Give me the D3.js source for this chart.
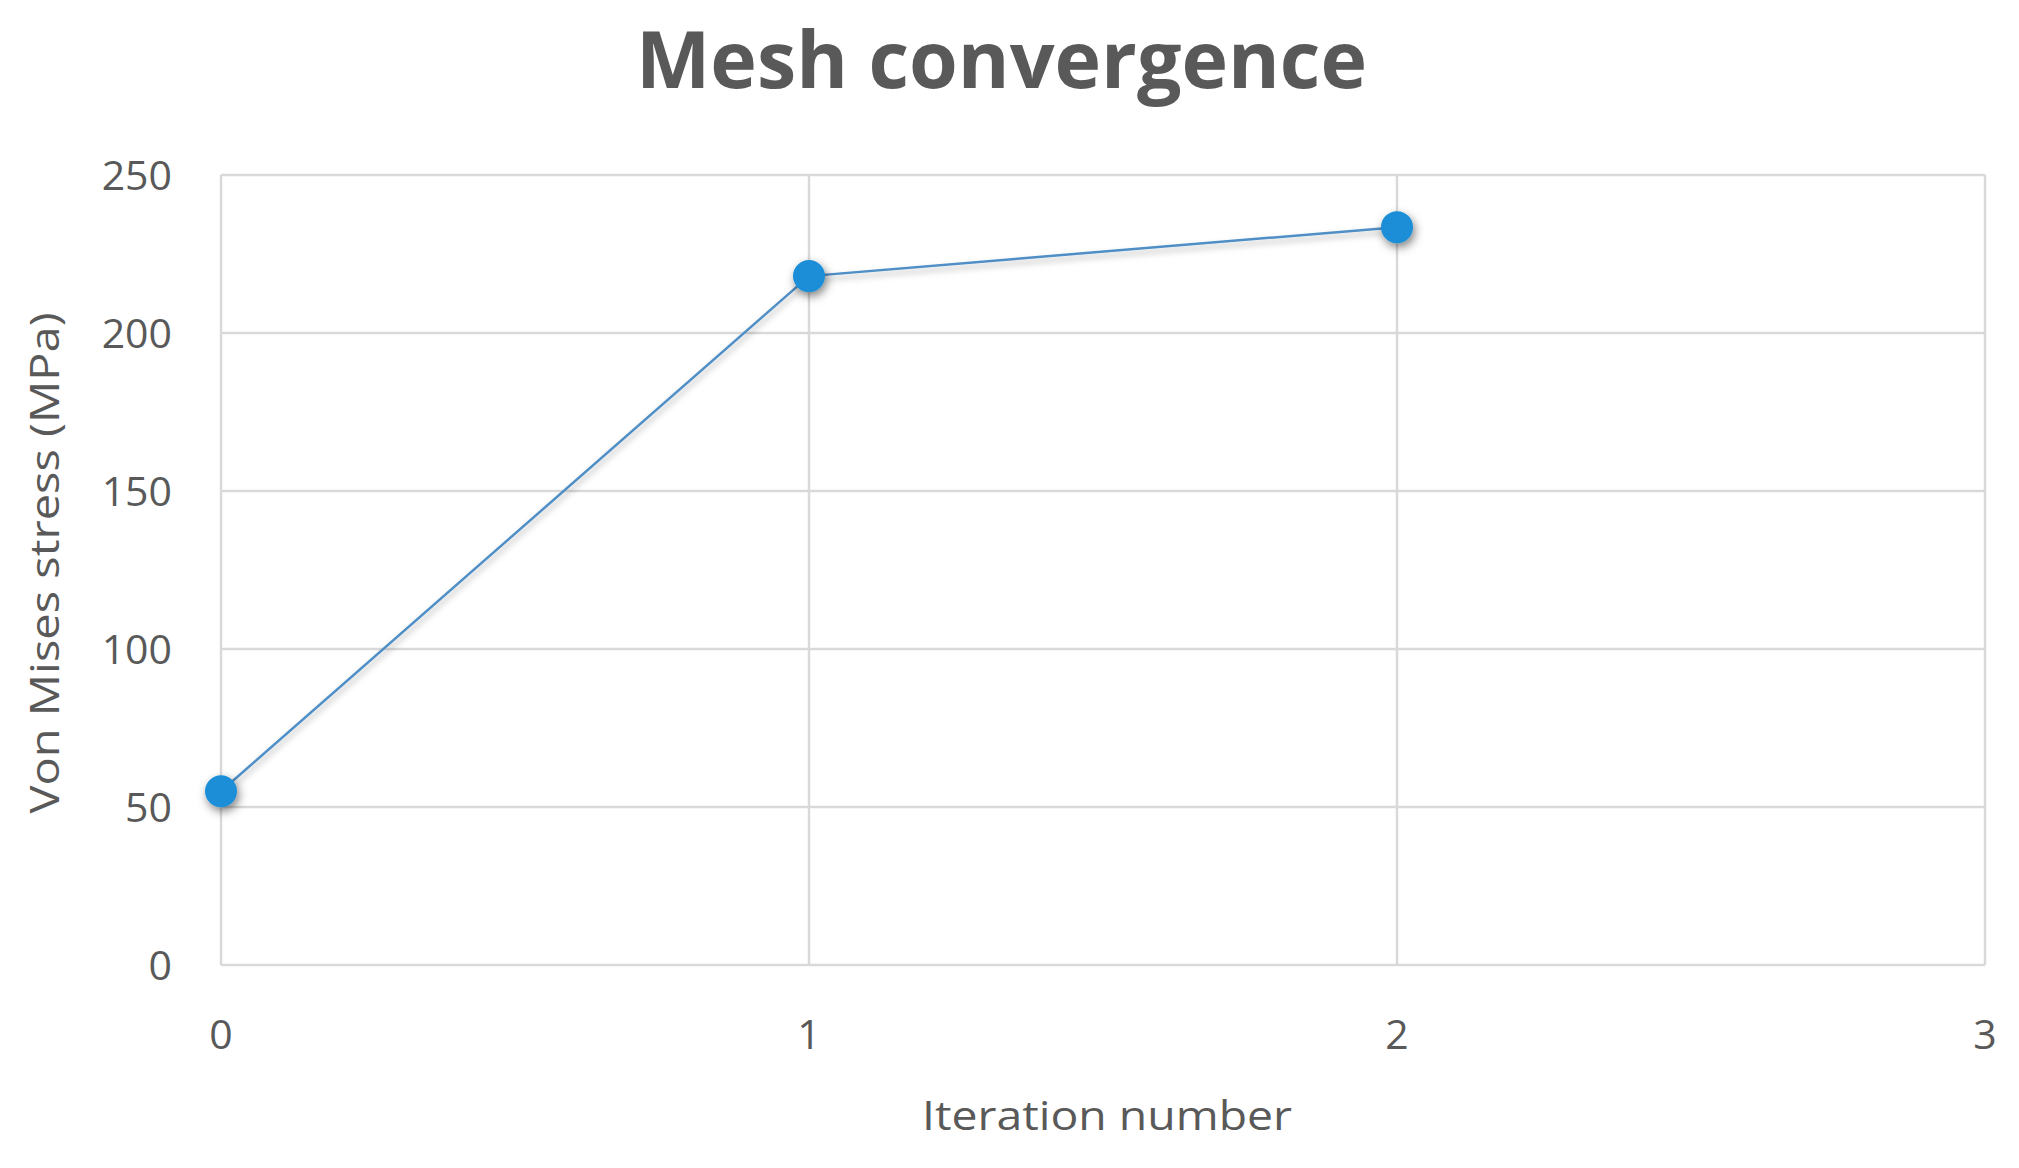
<!DOCTYPE html>
<html><head><meta charset="utf-8">
<script src="https://cdn.jsdelivr.net/npm/d3@7"></script>
<style>html,body{margin:0;padding:0;background:#fff;}svg{display:block;}</style>
</head><body>
<script>
const iterations = [0, 1, 2];
const stressValues = [55, 218, 233.5];
const xTicks = [0, 1, 2, 3];
const yTicks = [0, 50, 100, 150, 200, 250];
const titleText = "Mesh convergence";
const xLabel = "Iteration number";
const yLabel = "Von Mises stress (MPa)";

const W = 2019, H = 1168;
const m = {left: 221, right: 2019 - 1985, top: 175, bottom: 1168 - 965};
const svg = d3.select("body").append("svg").attr("width", W).attr("height", H);

const defs = svg.append("defs");
const f = defs.append("filter").attr("id", "sh").attr("x", "-50%").attr("y", "-50%").attr("width", "200%").attr("height", "200%");
f.append("feDropShadow").attr("dx", 2).attr("dy", 4).attr("stdDeviation", 5).attr("flood-color", "#000").attr("flood-opacity", 0.5);
const fl = defs.append("filter").attr("id", "shl").attr("x", "-10%").attr("y", "-50%").attr("width", "120%").attr("height", "200%");
fl.append("feDropShadow").attr("dx", 1).attr("dy", 4).attr("stdDeviation", 3).attr("flood-color", "#000").attr("flood-opacity", 0.3);

const x = d3.scaleLinear().domain([0, 3]).range([m.left, W - m.right]);
const y = d3.scaleLinear().domain([0, 250]).range([H - m.bottom, m.top]);

const grid = svg.append("g");
grid.selectAll("line.h").data(yTicks).join("line")
  .attr("x1", x(0)).attr("x2", x(3)).attr("y1", d => y(d)).attr("y2", d => y(d))
  .attr("stroke", "#d9d9d9").attr("stroke-width", 2.5);
grid.selectAll("line.v").data(xTicks).join("line")
  .attr("y1", y(0)).attr("y2", y(250)).attr("x1", d => x(d)).attr("x2", d => x(d))
  .attr("stroke", "#d9d9d9").attr("stroke-width", 2.5);

const font = "'Open Sans', 'Noto Sans', sans-serif";
svg.append("g").selectAll("text").data(yTicks).join("text")
  .attr("x", 172).attr("y", d => y(d)).attr("dy", "0.36em")
  .attr("text-anchor", "end").attr("font-family", font).attr("font-size", 41)
  .attr("fill", "#595959").text(d => d);
svg.append("g").selectAll("text").data(xTicks).join("text")
  .attr("x", d => x(d)).attr("y", 1049)
  .attr("text-anchor", "middle").attr("font-family", font).attr("font-size", 41)
  .attr("fill", "#595959").text(d => d);

svg.append("text").attr("x", (636 + 1367) / 2).attr("y", 88)
  .attr("text-anchor", "middle").attr("font-family", font).attr("font-weight", 700)
  .attr("font-size", 78).attr("fill", "#595959")
  .attr("textLength", 731).attr("lengthAdjust", "spacingAndGlyphs").text(titleText);
svg.append("text").attr("x", 1107).attr("y", 1130)
  .attr("text-anchor", "middle").attr("font-family", font).attr("font-size", 40)
  .attr("fill", "#595959").attr("textLength", 370).attr("lengthAdjust", "spacingAndGlyphs").text(xLabel);
svg.append("text").attr("transform", "translate(59,563) rotate(-90)")
  .attr("text-anchor", "middle").attr("font-family", font).attr("font-size", 40)
  .attr("fill", "#595959").attr("textLength", 501).attr("lengthAdjust", "spacingAndGlyphs").text(yLabel);

const data = iterations.map((d, i) => ({x: d, y: stressValues[i]}));
svg.append("path").datum(data)
  .attr("d", d3.line().x(d => x(d.x)).y(d => y(d.y)))
  .attr("fill", "none").attr("stroke", "#4f8fc6").attr("stroke-width", 2.5)
  .attr("filter", "url(#shl)");
svg.append("g").selectAll("circle").data(data).join("circle")
  .attr("cx", d => x(d.x)).attr("cy", d => y(d.y)).attr("r", 16)
  .attr("fill", "#1a8ed8").attr("filter", "url(#sh)");
</script>
</body></html>
